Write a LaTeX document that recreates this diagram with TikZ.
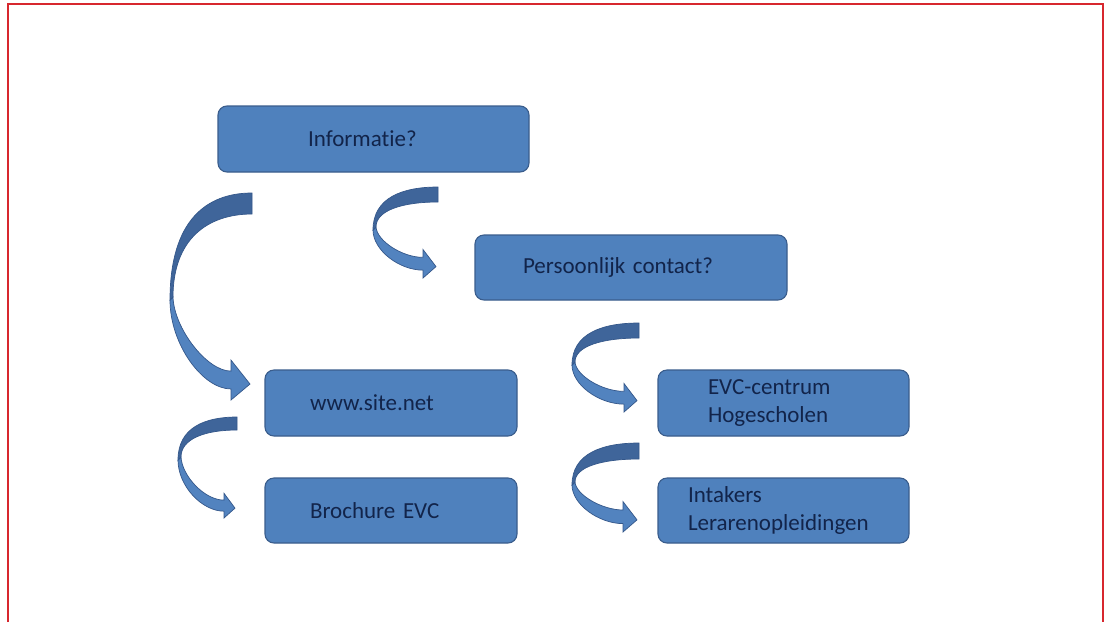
\documentclass[tikz,border=0pt]{standalone}
\usepackage{fontspec}
\setmainfont{Carlito}[Ligatures=NoCommon]
\usepackage{tikz}

\definecolor{boxblauw}{HTML}{4F81BD}
\definecolor{boxrand}{HTML}{3A5D8C}
\definecolor{pijlvoor}{HTML}{5283BF}
\definecolor{pijlachter}{HTML}{3F659A}
\definecolor{pijlrand}{HTML}{34578A}
\definecolor{tekstblauw}{HTML}{12244A}
\definecolor{kaderrood}{HTML}{D7272E}

\DeclareRobustCommand{\vakfont}{\fontsize{23}{28}\selectfont\spaceskip=0.23em\relax}

% gebogen pijl: x, y (rechtsboven staart), breedte, hoogte, dikte, hoogte van het keerpunt
\newcommand{\gebogenpijl}[6]{%
  \pgfmathsetmacro\pw{#3}\pgfmathsetmacro\ph{#4}%
  \pgfmathsetmacro\pt{#5}\pgfmathsetmacro\pm{#6}%
  \pgfmathsetmacro\pL{#5}%
  \pgfmathsetmacro\pH{1.9*#5}%
  \pgfmathsetmacro\pc{\ph-0.5*\pH}%
  \pgfmathsetmacro\po{\pc+0.425*\pt}%
  \pgfmathsetmacro\pb{\pc-0.425*\pt}%
  \begin{scope}[shift={(#1,#2)}]
    % voorkant met punt
    \filldraw[pijlvoor, draw=pijlrand, line width=.7pt]
      (-\pw,\pm) .. controls (-\pw,{\pm+0.5*(\po-\pm)}) and (-0.6*\pw,\po) .. (-\pL,\po)
      -- (-\pL,\ph) -- (-2,{\pc+0.1*\pH}) -- (-\pL,{\pc-0.5*\pH}) -- (-\pL,\pb)
      .. controls (-0.55*\pw,\pb) and (-\pw+4,{\pm+0.4*(\pb-\pm)}) .. (-\pw+3,\pm-3)
      -- cycle;
    % achterkant
    \filldraw[pijlachter, draw=pijlrand, line width=.7pt]
      (0,0) .. controls (-0.55*\pw,0) and (-\pw,0.25*\pm) .. (-\pw,\pm)
      -- (-\pw+3,\pm-3)
      .. controls (-\pw+3,{\pt+0.3*(\pm-\pt)}) and (-0.55*\pw,\pt) .. (0,\pt)
      -- cycle;
  \end{scope}}

\begin{document}
\begin{tikzpicture}[x=1pt, y=-1pt,
    vak/.style={draw=boxrand, fill=boxblauw, line width=1.1pt, rounded corners=9pt,
      text=tekstblauw, font=\vakfont, inner ysep=0pt}
  ]
  \useasboundingbox (0,0) rectangle (1111,622);
  \fill[white] (0,0) rectangle (1111,622);
  \draw[kaderrood, line width=2.5pt] (8,622) -- (8,4) -- (1103,4) -- (1103,622);

  % vakken
  \node[vak, minimum width=311pt, minimum height=66pt, inner xsep=90pt, text width=131pt]
    (info) at (373.5,139) {Informatie?};
  \node[vak, minimum width=312pt, minimum height=65pt, inner xsep=48pt, text width=216pt]
    (contact) at (631,267.5) {Persoonlijk contact?};
  \node[vak, minimum width=252pt, minimum height=66pt, inner xsep=45pt, text width=162pt]
    (site) at (391,403) {www.site.net};
  \node[vak, minimum width=252pt, minimum height=65pt, inner xsep=45pt, text width=162pt]
    (brochure) at (391,510.5) {Brochure EVC};
  \node[vak, align=left, minimum width=251pt, minimum height=66pt, inner xsep=50pt, text width=151pt]
    (evc) at (783.5,403) {EVC-centrum\\Hogescholen};
  \node[vak, align=left, minimum width=251pt, minimum height=65pt, inner xsep=30pt, text width=191pt]
    (intake) at (783.5,510.5) {Intakers\\Lerarenopleidingen};

  % pijlen
  \gebogenpijl{252}{193}{82}{207}{21}{107}
  \gebogenpijl{438}{187}{65}{91}{15}{43}
  \gebogenpijl{237}{417}{59}{101}{13}{43}
  \gebogenpijl{639}{323}{67}{89}{15}{42}
  \gebogenpijl{639}{443}{67}{89}{16}{42}
\end{tikzpicture}
\end{document}
